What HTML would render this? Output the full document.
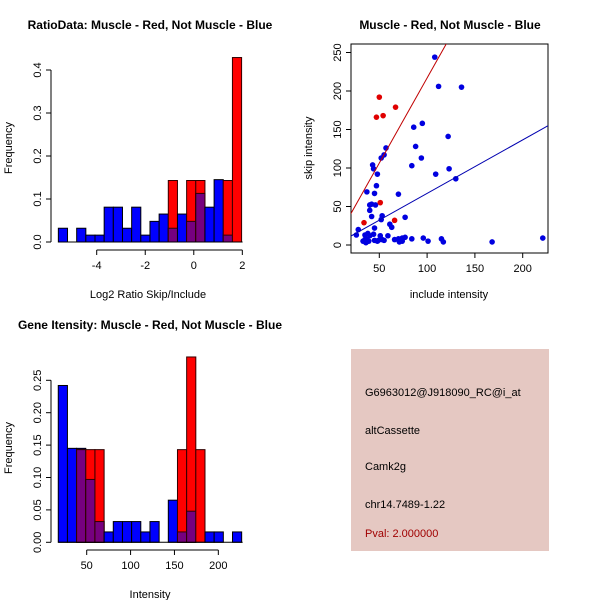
<!DOCTYPE html>
<html><head><meta charset="utf-8"><style>
body{margin:0;background:#fff}
svg{display:block;font-family:"Liberation Sans",Arial,sans-serif}
</style></head><body>
<svg id="s" width="600" height="600" viewBox="0 0 600 600">
<rect width="600" height="600" fill="#fff"/>
<text x="150" y="29" text-anchor="middle" font-size="12" font-weight="bold">RatioData: Muscle - Red, Not Muscle - Blue</text>
<text x="450" y="29" text-anchor="middle" font-size="12" font-weight="bold">Muscle - Red, Not Muscle - Blue</text>
<text x="150" y="329" text-anchor="middle" font-size="12" font-weight="bold">Gene Itensity: Muscle - Red, Not Muscle - Blue</text>
<text x="148" y="298" text-anchor="middle" font-size="11">Log2 Ratio Skip/Include</text>
<text x="12" y="148" text-anchor="middle" font-size="11" transform="rotate(-90 12 148)">Frequency</text>
<text x="449" y="298" text-anchor="middle" font-size="11">include intensity</text>
<text x="312" y="148" text-anchor="middle" font-size="11" transform="rotate(-90 312 148)">skip intensity</text>
<text x="150" y="598" text-anchor="middle" font-size="11">Intensity</text>
<text x="12" y="448" text-anchor="middle" font-size="11" transform="rotate(-90 12 448)">Frequency</text>
<g>
<rect x="351" y="349" width="198" height="202" fill="#e5c8c2"/>
<text x="365" y="396" font-size="11">G6963012@J918090_RC@i_at</text>
<text x="365" y="434" font-size="11">altCassette</text>
<text x="365" y="470" font-size="11">Camk2g</text>
<text x="365" y="508" font-size="11">chr14.7489-1.22</text>
<text x="365" y="537" font-size="11" fill="#a00000">Pval: 2.000000</text>
</g>
<g id="g1"></g><g id="g2"></g><g id="g3"></g>
</svg>
<script>
// Ratio histogram data
const ratioBinStart = -5.58, ratioBinWidth = 0.3775;
const ratioBlue = [0.032,0,0.032,0.016,0.016,0.081,0.081,0.032,0.081,0.016,0.048,0.065,0.032,0.065,0.048,0.113,0.081,0.145,0.016,0];
const ratioRed  = [0,0,0,0,0,0,0,0,0,0,0,0,0.143,0,0.143,0.143,0,0,0.143,0.429];
const ratioXTicks = [-4,-2,0,2];
const ratioYTicks = [0,0.1,0.2,0.3,0.4];
// Intensity histogram data
const intBinStart = 17.6, intBinWidth = 10.45;
const intBlue = [0.242,0.145,0.145,0.097,0.032,0.016,0.032,0.032,0.032,0.016,0.032,0,0.065,0.016,0.048,0,0.016,0.016,0,0.016];
const intRed  = [0,0,0.143,0.143,0.143,0,0,0,0,0,0,0,0,0.143,0.286,0.143,0,0,0,0];
const intXTicks = [50,100,150,200];
const intYTicks = [0,0.05,0.10,0.15,0.20,0.25];
// Scatter data
const blueX = [108,112,136,86,95,88,122,84,94,57,55,52,43,44,48,47,45,37,70,40,46,42,40,42,53,52,77,61,63,45,109,123,130,28,26,35,38,40,37,33,39,45,49,53,55,51,59,66,70,74,77,84,96,101,115,117,168,221,36,35,44,48,71,74];
const blueY = [244,206,205,153,158,128,141,103,113,126,117,113,104,99,92,77,67,69,66,52,52,53,45,37,38,33,36,27,23,22,92,99,86,20,13,13,15,12,7,5,5,6,6,7,6,12,12,7,8,9,10,8,9,5,8,4,4,9,3,7,14,5,4,5];
const redX = [50,54,47,67,51,34,66];
const redY = [192,168,166,179,55,29,32];
const redFit = [-4.1, 2.21];   // intercept, slope
const blueFit = [-2.5, 0.695];
const scXTicks = [50,100,150,200];
const scYTicks = [0,50,100,150,200,250];

const NS="http://www.w3.org/2000/svg";
function mk(parent,tag,attrs){const e=document.createElementNS(NS,tag);for(const k in attrs)e.setAttribute(k,attrs[k]);parent.appendChild(e);return e;}
function fmt(v,d){return d?v.toFixed(d):String(v);}

function hist(g,cfg){
  const xs=v=>cfg.x0+(v-cfg.xv0)*cfg.kx, ys=v=>cfg.y0-v*cfg.ky;
  const n=cfg.blue.length;
  for(let i=0;i<n;i++){
    const a=xs(cfg.bs+i*cfg.bw), b=xs(cfg.bs+(i+1)*cfg.bw);
    const bv=cfg.blue[i], rv=cfg.red[i];
    if(bv>0){const r=mk(g,'rect',{x:a,y:ys(bv),width:b-a,height:ys(0)-ys(bv),fill:'#0000ff',stroke:'#000','stroke-width':1});
      
      }
    if(rv>0){const r=mk(g,'rect',{x:a,y:ys(rv),width:b-a,height:ys(0)-ys(rv),fill:'#ff0000',stroke:'#300','stroke-width':1});
      
      }
    if(bv>0&&rv>0){const m=Math.min(bv,rv);const r=mk(g,'rect',{x:a,y:ys(m),width:b-a,height:ys(0)-ys(m),fill:'#76007f',stroke:'#300','stroke-width':1});
      
      }
  }
  mk(g,'line',{x1:xs(cfg.bs),x2:xs(cfg.bs+n*cfg.bw)+1,y1:ys(0),y2:ys(0),stroke:'#000'});
  // y axis
  const yt=cfg.yt;
  mk(g,'line',{x1:cfg.yax,x2:cfg.yax,y1:ys(yt[0]),y2:ys(yt[yt.length-1]),stroke:'#000'});
  yt.forEach(v=>{mk(g,'line',{x1:cfg.yax-5,x2:cfg.yax,y1:ys(v),y2:ys(v),stroke:'#000'});
    const t=mk(g,'text',{x:cfg.yax-10,y:ys(v),'font-size':11,'text-anchor':'middle',transform:`rotate(-90 ${cfg.yax-10} ${ys(v)})`});t.textContent=fmt(v,cfg.yd);
    
    });
  const xt=cfg.xt;
  mk(g,'line',{x1:xs(xt[0]),x2:xs(xt[xt.length-1]),y1:cfg.xax,y2:cfg.xax,stroke:'#000'});
  xt.forEach(v=>{mk(g,'line',{x1:xs(v),x2:xs(v),y1:cfg.xax,y2:cfg.xax+5,stroke:'#000'});
    const t=mk(g,'text',{x:xs(v),y:cfg.xax+19,'font-size':11,'text-anchor':'middle'});t.textContent=fmt(v,0);
    
    });
}
const g1=document.getElementById('g1');


hist(g1,{blue:ratioBlue,red:ratioRed,bs:ratioBinStart,bw:ratioBinWidth,x0:96.7,xv0:-4,kx:24.27,y0:242,ky:430,yax:51,xax:250,xt:ratioXTicks,yt:ratioYTicks,yd:1});
const g3=document.getElementById('g3');


hist(g3,{blue:intBlue,red:intRed,bs:intBinStart,bw:intBinWidth,x0:86.7,xv0:50,kx:0.8775,y0:542.3,ky:648,yax:51,xax:550,xt:intXTicks,yt:intYTicks,yd:2});

// scatter
const g2=document.getElementById('g2');


const sx=v=>331.5+v*0.956, sy=v=>245-v*0.77;
const L=351,R=548,T=44,B=253;
mk(g2,'defs',{}).innerHTML=`<clipPath id="cp"><rect x="${L}" y="${T}" width="${R-L}" height="${B-T}"/></clipPath>`;
mk(g2,'rect',{x:L,y:T,width:R-L,height:B-T,fill:'none',stroke:'#000'});
scXTicks.forEach(v=>{mk(g2,'line',{x1:sx(v),x2:sx(v),y1:B,y2:B+5,stroke:'#000'});
  const t=mk(g2,'text',{x:sx(v),y:B+19,'font-size':11,'text-anchor':'middle'});t.textContent=v;
  
  });
scYTicks.forEach(v=>{mk(g2,'line',{x1:L-5,x2:L,y1:sy(v),y2:sy(v),stroke:'#000'});
  const t=mk(g2,'text',{x:L-10,y:sy(v),'font-size':11,'text-anchor':'middle',transform:`rotate(-90 ${L-10} ${sy(v)})`});t.textContent=v;
  
  });
const pts=mk(g2,'g',{'clip-path':'url(#cp)'});
blueX.forEach((x,i)=>{const c=mk(pts,'circle',{cx:sx(x),cy:sy(blueY[i]),r:2.8,fill:'#0000e0'});
  
  });
redX.forEach((x,i)=>{const c=mk(pts,'circle',{cx:sx(x),cy:sy(redY[i]),r:2.8,fill:'#e00000'});
  
  });
[[redFit,'#c00000','red-fit-line'],[blueFit,'#0000b0','blue-fit-line']].forEach(([f,col,nm])=>{
  const x1=0,x2=260;
  const l=mk(pts,'line',{x1:sx(x1),y1:sy(f[0]+f[1]*x1),x2:sx(x2),y2:sy(f[0]+f[1]*x2),stroke:col,'stroke-width':1});
  
  });
</script>
</body></html>
